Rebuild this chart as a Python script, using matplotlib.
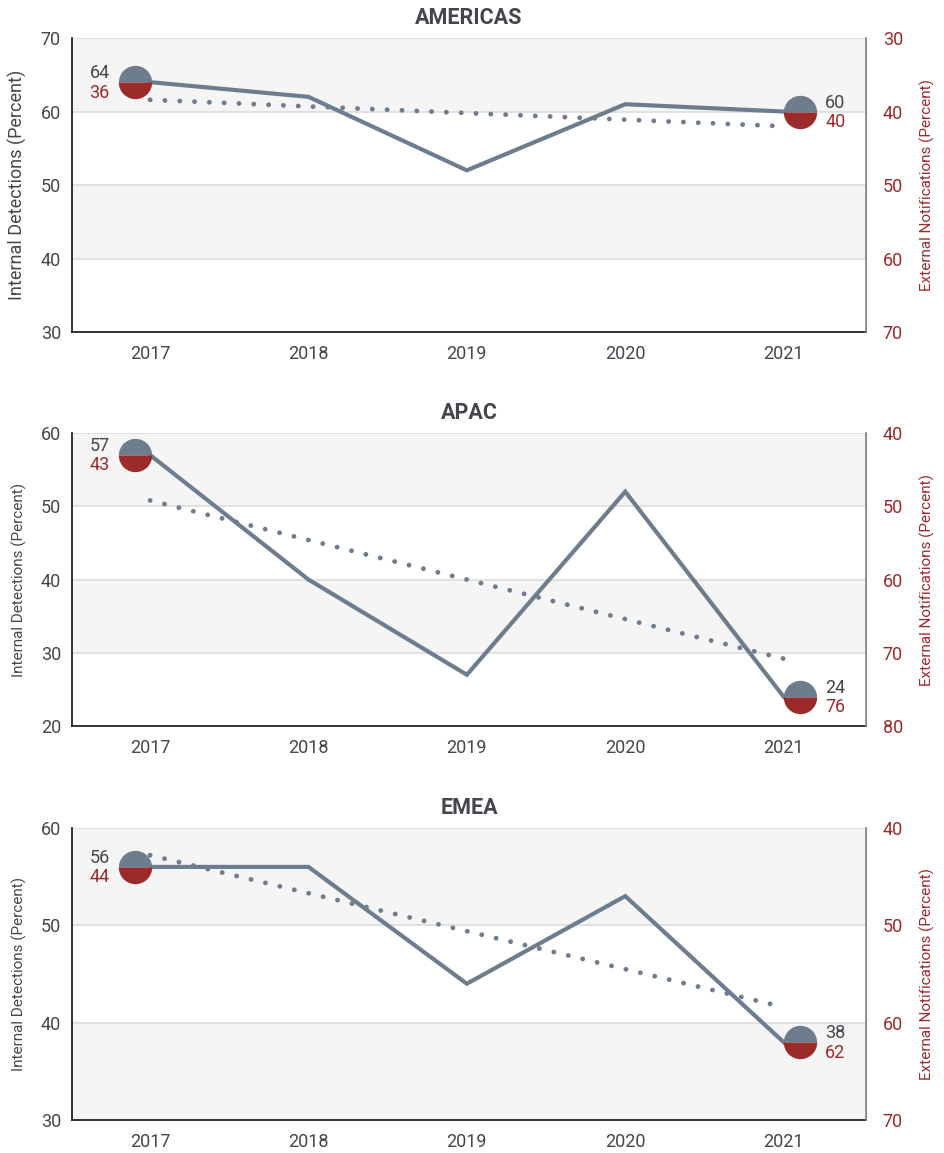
import numpy as np
import matplotlib
matplotlib.use('Agg')
import matplotlib.pyplot as plt
import matplotlib.transforms as mtransforms

plt.rcParams['font.family'] = ['Roboto', 'DejaVu Sans']

YEARS = [2017, 2018, 2019, 2020, 2021]
REGIONS = ['AMERICAS', 'APAC', 'EMEA']
INTERNAL_AMERICAS = [64, 62, 52, 61, 60]
INTERNAL_APAC     = [57, 40, 27, 52, 24]
INTERNAL_EMEA     = [56, 56, 44, 53, 38]
LEFT_TICKS_AMERICAS = [30, 40, 50, 60, 70]
LEFT_TICKS_APAC     = [20, 30, 40, 50, 60]
LEFT_TICKS_EMEA     = [30, 40, 50, 60]

GREY = '#6e7d8e'
RED = '#9b2a2b'
TEXT = '#45454d'
BAND = '#f5f5f5'

# axes boxes in figure fractions [left, bottom, width, height]
BOXES = [[0.0762, 0.712, 0.8402, 0.255],
         [0.0762, 0.3703, 0.8402, 0.2541],
         [0.0762, 0.0286, 0.8402, 0.2533]]
LEFT_LABEL_SIZE = [13, 11, 11]

fig = plt.figure(figsize=(9.45, 11.53), dpi=100)

panels = [(INTERNAL_AMERICAS, LEFT_TICKS_AMERICAS),
          (INTERNAL_APAC, LEFT_TICKS_APAC),
          (INTERNAL_EMEA, LEFT_TICKS_EMEA)]

for i, (region, (internal, ticks)) in enumerate(zip(REGIONS, panels)):
    ax = fig.add_axes(BOXES[i])
    lo, hi = ticks[0], ticks[-1]
    ax.set_xlim(2016.507, 2021.52)
    ax.set_ylim(lo, hi)

    # alternating bands, grey band on top
    for j in range(len(ticks) - 1):
        if (len(ticks) - 2 - j) % 2 == 0:
            ax.axhspan(ticks[j], ticks[j + 1], color=BAND, lw=0, zorder=0)
    for t in ticks[1:]:
        ax.axhline(t, color='#dcdcdc', lw=1.2, zorder=1)

    x = np.array(YEARS, dtype=float)
    y = np.array(internal, dtype=float)
    ax.plot(x, y, color=GREY, lw=3, zorder=3, solid_joinstyle='miter')

    # linear trend of the series
    k, b = np.polyfit(x, y, 1)
    ax.plot(x[[0, -1]], k * x[[0, -1]] + b, color=GREY, lw=3.5,
            ls=(0, (0.01, 3.04)), dash_capstyle='round', zorder=2)

    # end circles, half grey / half red, pushed outward from the line ends
    for idx, dx, ha, tx in [(0, -11, 'right', -18), (-1, 12, 'left', 18)]:
        tr = mtransforms.offset_copy(ax.transData, fig=fig, x=dx, y=0, units='points')
        ax.plot([x[idx]], [y[idx]], marker='o', ms=24, fillstyle='top',
                markerfacecolor=GREY, markerfacecoloralt=RED, mec='none',
                transform=tr, zorder=5, clip_on=False)
        tr2 = mtransforms.offset_copy(ax.transData, fig=fig, x=dx + tx, y=6.5, units='points')
        ax.text(x[idx], y[idx], f'{internal[idx]:.0f}', transform=tr2, ha=ha,
                va='center', fontsize=13, color=TEXT, zorder=6)
        tr3 = mtransforms.offset_copy(ax.transData, fig=fig, x=dx + tx, y=-7.5, units='points')
        ax.text(x[idx], y[idx], f'{100 - internal[idx]:.0f}', transform=tr3, ha=ha,
                va='center', fontsize=13, color=RED, zorder=6)

    ax.set_xticks(YEARS)
    ax.set_xticklabels([str(v) for v in YEARS])
    ax.set_yticks(ticks)
    ax.tick_params(length=0, labelsize=13, labelcolor=TEXT)
    ax.tick_params(axis='x', pad=9)
    ax.tick_params(axis='y', pad=8)
    ax.set_ylabel('Internal Detections (Percent)', fontsize=LEFT_LABEL_SIZE[i],
                  color=TEXT, labelpad=10)
    ax.set_title(region, fontsize=15.5, fontweight='bold', color=TEXT, pad=10)

    ax.spines['top'].set_visible(False)
    ax.spines['left'].set_color('#111111')
    ax.spines['bottom'].set_color('#111111')
    ax.spines['left'].set_linewidth(1.2)
    ax.spines['bottom'].set_linewidth(1.2)
    ax.spines['right'].set_color('#888888')

    ax2 = ax.twinx()
    ax2.set_ylim(100 - lo, 100 - hi)
    ax2.set_yticks([100 - t for t in ticks])
    ax2.tick_params(length=0, labelsize=13, labelcolor=RED, pad=12)
    ax2.set_ylabel('External Notifications (Percent)', fontsize=11, color=RED,
                   labelpad=12)
    for s in ['top', 'left', 'bottom']:
        ax2.spines[s].set_visible(False)
    ax2.spines['right'].set_color('#888888')
    ax2.spines['right'].set_linewidth(1.2)

fig.savefig('out.png', dpi=100)
